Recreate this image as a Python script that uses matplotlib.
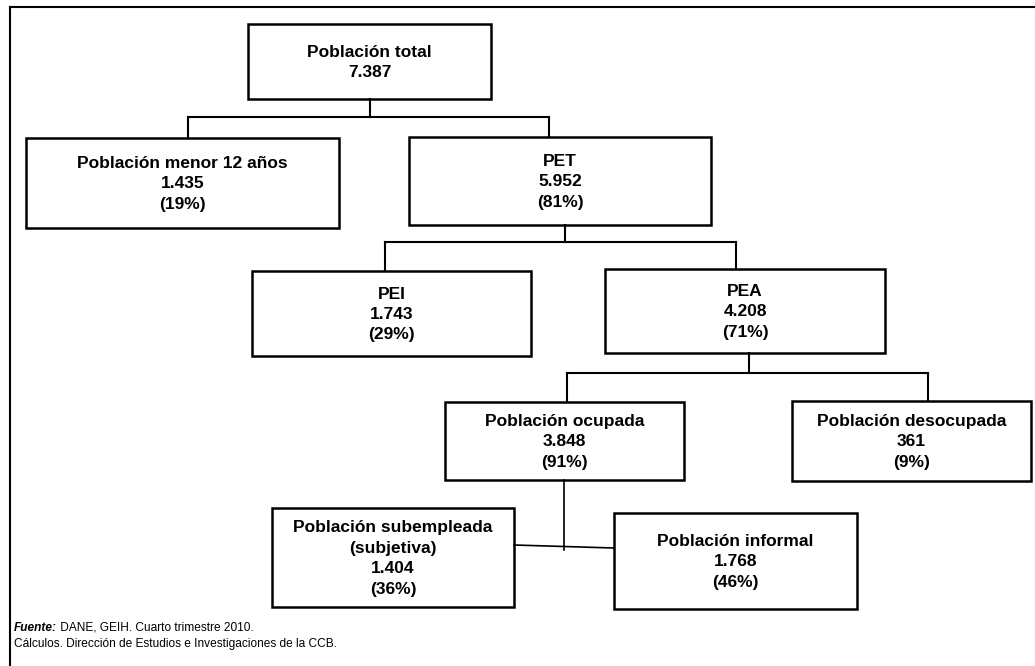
import matplotlib.pyplot as plt
from matplotlib.patches import Rectangle

# data
nodes = ["total", "menor", "pet", "pei", "pea", "ocupada", "desocupada", "subempleada", "informal"]
names = ["Población total", "Población menor 12 años", "PET", "PEI", "PEA",
         "Población ocupada", "Población desocupada",
         "Población subempleada\n(subjetiva)", "Población informal"]
values = ["7.387", "1.435", "5.952", "1.743", "4.208", "3.848", "361", "1.404", "1.768"]
shares = [None, "19%", "81%", "29%", "71%", "91%", "9%", "36%", "46%"]

# parent -> children
tree = {"total": ["menor", "pet"], "pet": ["pei", "pea"], "pea": ["ocupada", "desocupada"]}

source_label = "Fuente:"
source_text = " DANE, GEIH. Cuarto trimestre 2010."
calc_text = "Cálculos. Dirección de Estudios e Investigaciones de la CCB."

# layout in pixels (x0, y0, x1, y1), y down
boxes = {
    "total": (248, 24, 491, 99),
    "menor": (26, 138, 339, 228),
    "pet": (409, 137, 711, 225),
    "pei": (252, 271, 531, 356),
    "pea": (605, 269, 885, 353),
    "ocupada": (445, 402, 684, 480),
    "desocupada": (792, 401, 1031, 481),
    "subempleada": (272, 508, 514, 607),
    "informal": (614, 513, 857, 609),
}
# x of the drop line under each parent, y of the bus, x where each child hangs
drops = {"total": (370, 117), "pet": (565, 242), "pea": (749, 373)}
hangs = {"menor": 188, "pet": 549, "pei": 385, "pea": 736, "ocupada": 567, "desocupada": 928}

W, H = 1035, 666
fig = plt.figure(figsize=(W / 100, H / 100), dpi=100)
ax = fig.add_axes([0, 0, 1, 1])
ax.set_xlim(0, W)
ax.set_ylim(H, 0)
ax.axis("off")

font = "Liberation Sans"

for i, key in enumerate(nodes):
    x0, y0, x1, y1 = boxes[key]
    ax.add_patch(Rectangle((x0, y0), x1 - x0, y1 - y0, fill=False, ec="black", lw=1.8))
    txt = names[i] + "\n" + values[i]
    if shares[i]:
        txt += "\n(" + shares[i] + ")"
    ax.text((x0 + x1) / 2, (y0 + y1) / 2 + 1, txt, ha="center", va="center",
            fontsize=12.5, fontweight="bold", family=font, linespacing=1.45)

# connectors
for parent, kids in tree.items():
    dx, by = drops[parent]
    pb = boxes[parent][3]
    ax.plot([dx, dx], [pb, by], color="black", lw=1.5)
    xs = [hangs[k] for k in kids]
    ax.plot([min(xs + [dx]), max(xs + [dx])], [by, by], color="black", lw=1.5)
    for k in kids:
        ax.plot([hangs[k], hangs[k]], [by, boxes[k][1]], color="black", lw=1.5)

# ocupada -> subempleada / informal
ox = 564
ax.plot([ox, ox], [boxes["ocupada"][3], 550], color="black", lw=1.2)
ax.plot([boxes["subempleada"][2], boxes["informal"][0]], [545, 548], color="black", lw=1.2)

# frame
ax.plot([10, W], [7, 7], color="black", lw=1.5)
ax.plot([10, 10], [7, H], color="black", lw=1.5)

# footnote
t = ax.text(14, 631, source_label, fontsize=8.6, fontweight="bold", fontstyle="italic",
            family=font, va="baseline", ha="left")
fig.canvas.draw()
bb = t.get_window_extent()
x_end = ax.transData.inverted().transform((bb.x1, bb.y0))[0]
ax.text(x_end, 631, source_text, fontsize=8.6, family=font, va="baseline", ha="left")
ax.text(14, 647, calc_text, fontsize=8.6, family=font, va="baseline", ha="left")

fig.savefig("out.png", dpi=100)
